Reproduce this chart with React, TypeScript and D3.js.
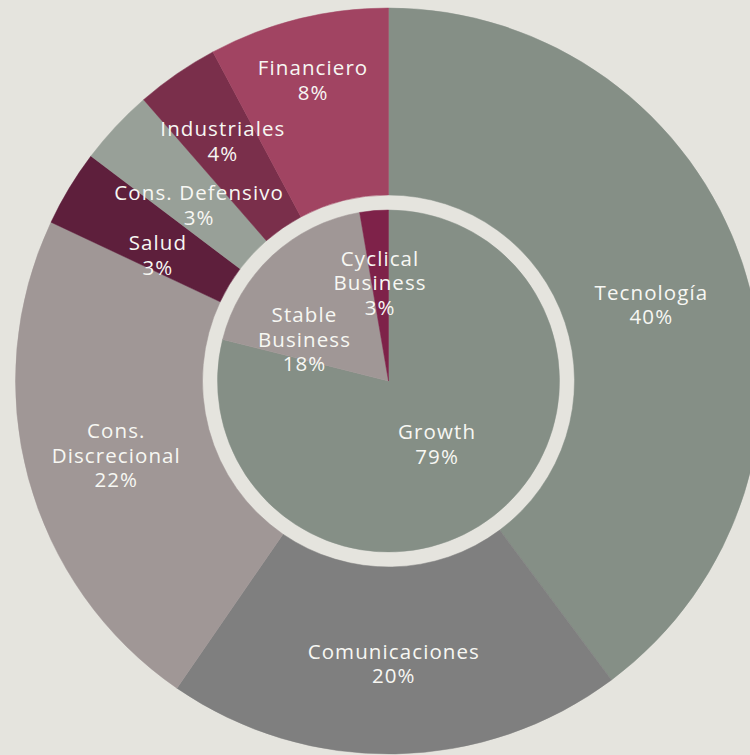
import React from 'react';
import * as d3 from 'd3';

// outer ring: sectors
const sectorNames = ['Tecnología', 'Comunicaciones', 'Cons. Discrecional', 'Salud', 'Cons. Defensivo', 'Industriales', 'Financiero'];
const sectorLines = [['Tecnología'], ['Comunicaciones'], ['Cons.', 'Discrecional'], ['Salud'], ['Cons. Defensivo'], ['Industriales'], ['Financiero']];
const sectorValues = [39.8, 19.8, 22.4, 3.3, 3.3, 3.6, 7.8];
const sectorColors = ['#858f86', '#7f7f7f', '#a09796', '#5e1f3c', '#98a098', '#7a2f4b', '#a14462'];

// inner pie: business type
const styleNames = ['Growth', 'Stable Business', 'Cyclical Business'];
const styleLines = [['Growth'], ['Stable', 'Business'], ['Cyclical', 'Business']];
const styleValues = [78.9, 18.4, 2.7];
const styleColors = ['#858f86', '#a09796', '#7e2249'];

// where the labels sit (radius from centre, optional angle shift in degrees)
const labelRadius: Record<string, number> = {
    'Tecnología': 274, 'Comunicaciones': 282, 'Cons. Discrecional': 282, 'Salud': 263,
    'Cons. Defensivo': 259, 'Industriales': 292, 'Financiero': 311,
    'Growth': 79, 'Stable Business': 94, 'Cyclical Business': 99,
};
const labelShift: Record<string, number> = { 'Tecnología': 2, 'Salud': -2.4, 'Stable Business': -20.5 };

const width = 750;
const height = 755;
const cx = 388.5;
const cy = 381;
const pieR = 171;
const ringInner = 186;
const ringOuter = 373;
const bg = '#e5e4de';
const textColor = '#f7f7f3';
const fontFamily = '"Open Sans", "Noto Sans", sans-serif';

const Label = ({ name, lines, mid, value }: { name: string; lines: string[]; mid: number; value: number }) => {
    const a = mid + ((labelShift[name] || 0) * Math.PI) / 180;
    const r = labelRadius[name];
    const x = Math.sin(a) * r;
    const y = -Math.cos(a) * r;
    const all = [...lines, `${Math.round(value)}%`];
    const lh = 24.5;
    return (
        <text x={x} y={y} textAnchor="middle" fill={textColor} fontFamily={fontFamily} fontSize={20.5} letterSpacing={1.1}>
            {all.map((l, i) => (
                <tspan key={i} x={x} y={y + (i - (all.length - 1) / 2) * lh} dominantBaseline="central">{l}</tspan>
            ))}
        </text>
    );
};

export default function App() {
    const pie = d3.pie<number>().sort(null).value(d => d);
    const outer = pie(sectorValues);
    const inner = pie(styleValues);
    const outerArc = d3.arc<d3.PieArcDatum<number>>().innerRadius(ringInner).outerRadius(ringOuter);
    const innerArc = d3.arc<d3.PieArcDatum<number>>().innerRadius(0).outerRadius(pieR);

    return (
        <svg width={width} height={height} style={{ position: 'absolute', left: 0, top: 0 }}>
            <rect width={width} height={height} fill={bg} />
            <g transform={`translate(${cx},${cy})`}>
                {outer.map((d, i) => (
                    <path key={sectorNames[i]} d={outerArc(d) || ''} fill={sectorColors[i]} stroke={sectorColors[i]} strokeWidth={0.5} />
                ))}
                {inner.map((d, i) => (
                    <path key={styleNames[i]} d={innerArc(d) || ''} fill={styleColors[i]} stroke={styleColors[i]} strokeWidth={0.5} />
                ))}
                {outer.map((d, i) => (
                    <Label key={'l' + i} name={sectorNames[i]} lines={sectorLines[i]} mid={(d.startAngle + d.endAngle) / 2} value={sectorValues[i]} />
                ))}
                {inner.map((d, i) => (
                    <Label key={'s' + i} name={styleNames[i]} lines={styleLines[i]} mid={(d.startAngle + d.endAngle) / 2} value={styleValues[i]} />
                ))}
            </g>
        </svg>
    );
}
